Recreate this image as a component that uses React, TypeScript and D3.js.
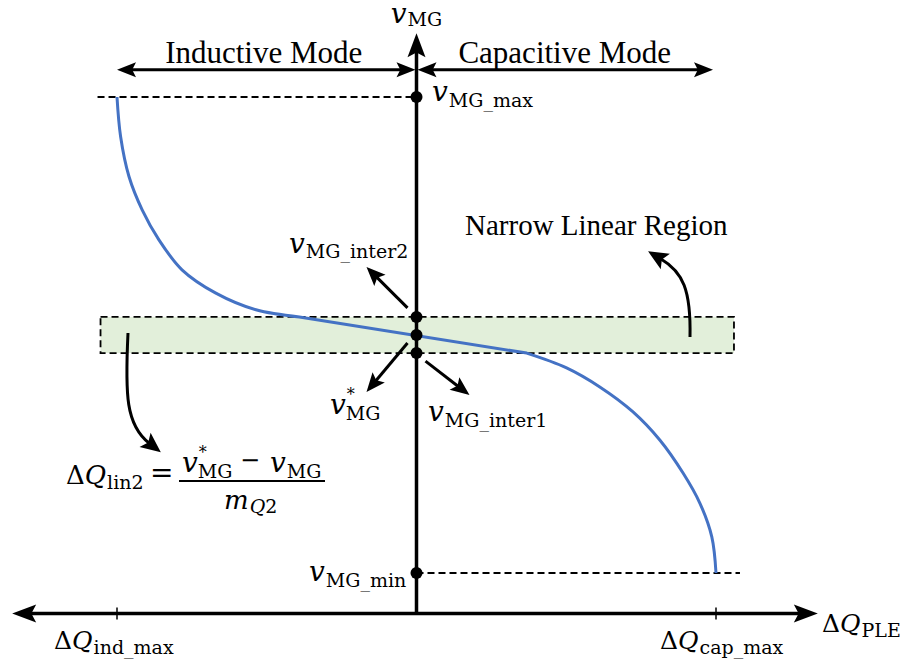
import React from "react";
import * as d3 from "d3";

const W = 903;
const H = 666;

// Reactive power deviation ΔQ_PLE is normalised so that -1 = ΔQ_ind_max and +1 = ΔQ_cap_max.
// Voltage v_MG is normalised so that 0 = v_MG_min and 1 = v_MG_max.
const qLimits: [number, number] = [-1, 1];
const vLimits: [number, number] = [0, 1];

// Droop characteristic: inductive branch (upper left), linear band, capacitive branch (lower right)
const inductiveBranch: [number, number][] = [
  [-1.0, 1.0],
  [-0.988, 0.917],
  [-0.96, 0.833],
  [-0.916, 0.763],
  [-0.86, 0.7],
  [-0.783, 0.637],
  [-0.67, 0.588],
  [-0.536, 0.553],
  [-0.391, 0.538],
];
const linearSegment: [number, number][] = [
  [-0.391, 0.538],
  [0.368, 0.462],
];
const capacitiveBranch: [number, number][] = [
  [0.368, 0.462],
  [0.501, 0.431],
  [0.612, 0.391],
  [0.722, 0.339],
  [0.813, 0.279],
  [0.89, 0.21],
  [0.946, 0.147],
  [0.986, 0.076],
  [1.0, 0.0],
];

// Voltage levels marked on the vertical axis
const vInter1 = 0.462;
const vStar = 0.5;
const vInter2 = 0.538;

const BLUE = "#4472C4";
const BAND = "#E2EFDA";
const TEXT_FONT = "'Liberation Serif', 'Times New Roman', serif";
const MATH_FONT = "'DejaVu Serif', serif";

const x = d3.scaleLinear().domain(qLimits).range([117, 716]);
const y = d3.scaleLinear().domain(vLimits).range([573, 97]);

type Pt = [number, number];

// Filled arrowhead with a slightly swept back, tip at (tx, ty), pointing along (dx, dy)
function Head({ tx, ty, dx, dy, len = 20, half = 8 }: { tx: number; ty: number; dx: number; dy: number; len?: number; half?: number }) {
  const n = Math.hypot(dx, dy);
  const ux = dx / n;
  const uy = dy / n;
  const px = -uy;
  const py = ux;
  const bx = tx - ux * len;
  const by = ty - uy * len;
  const nx = tx - ux * len * 0.8;
  const ny = ty - uy * len * 0.8;
  const pts = [
    [tx, ty],
    [bx + px * half, by + py * half],
    [nx, ny],
    [bx - px * half, by - py * half],
  ];
  return <polygon points={pts.map((p) => p.join(",")).join(" ")} fill="#000" />;
}

// Straight arrow from (x1,y1) to tip (x2,y2)
function Arrow({ x1, y1, x2, y2, len = 20, half = 8, w = 3 }: { x1: number; y1: number; x2: number; y2: number; len?: number; half?: number; w?: number }) {
  const dx = x2 - x1;
  const dy = y2 - y1;
  const n = Math.hypot(dx, dy);
  const ex = x2 - (dx / n) * len * 0.7;
  const ey = y2 - (dy / n) * len * 0.7;
  return (
    <g>
      <line x1={x1} y1={y1} x2={ex} y2={ey} stroke="#000" strokeWidth={w} />
      <Head tx={x2} ty={y2} dx={dx} dy={dy} len={len} half={half} />
    </g>
  );
}

// Curved arrow (cubic Bézier) with the head continuing along the end tangent
function CurvedArrow({ p0, c1, c2, p1, len = 20, half = 9 }: { p0: Pt; c1: Pt; c2: Pt; p1: Pt; len?: number; half?: number }) {
  const dx = p1[0] - c2[0];
  const dy = p1[1] - c2[1];
  const n = Math.hypot(dx, dy);
  const tip: Pt = [p1[0] + (dx / n) * len * 0.75, p1[1] + (dy / n) * len * 0.75];
  const path = d3.path();
  path.moveTo(p0[0], p0[1]);
  path.bezierCurveTo(c1[0], c1[1], c2[0], c2[1], p1[0], p1[1]);
  return (
    <g>
      <path d={path.toString()} fill="none" stroke="#000" strokeWidth={3} />
      <Head tx={tip[0]} ty={tip[1]} dx={dx} dy={dy} len={len} half={half} />
    </g>
  );
}

// Italic symbol with an upright subscript, e.g. v_MG
function MathLabel({
  x: lx,
  y: ly,
  sym,
  sub,
  subItalic,
  pre,
  star,
  size = 28,
  subSize = 19,
  subDy = 6,
  anchor = "start",
}: {
  x: number;
  y: number;
  sym: string;
  sub: string;
  subItalic?: string;
  pre?: string;
  star?: boolean;
  size?: number;
  subSize?: number;
  subDy?: number;
  anchor?: string;
}) {
  const subNode = subItalic ? (
    <>
      <tspan fontStyle="italic">{subItalic}</tspan>
      {sub}
    </>
  ) : (
    sub
  );
  return (
    <text x={lx} y={ly} fontFamily={MATH_FONT} fontSize={size} textAnchor={anchor} fill="#000">
      {pre ? <tspan>{pre}</tspan> : null}
      <tspan fontStyle="italic">{sym}</tspan>
      {star ? (
        <>
          <tspan fontSize={16} dy={-14} dx={1}>*</tspan>
          <tspan fontSize={subSize} dy={14 + subDy} dx={-9}>{subNode}</tspan>
        </>
      ) : (
        <tspan fontSize={subSize} dy={subDy} dx={1}>{subNode}</tspan>
      )}
    </text>
  );
}

export default function App() {
  const x0 = x(0);
  const yAxisH = y(-0.085); // horizontal axis level
  const yTop = y(1.134); // tip of the vertical axis
  const xLeftTip = x(-1.35);
  const xRightTip = x(1.34);
  const yMode = y(1.057);

  const curve = d3
    .line<Pt>()
    .x((d) => x(d[0]))
    .y((d) => y(d[1]))
    .curve(d3.curveCatmullRom.alpha(0.5));
  const straight = d3
    .line<Pt>()
    .x((d) => x(d[0]))
    .y((d) => y(d[1]));
  const droopPath =
    (curve(inductiveBranch) || "") +
    (straight(linearSegment) || "").replace(/^M/, "L") +
    (curve(capacitiveBranch) || "").replace(/^M/, "L");

  const bandX0 = x(-1.055);
  const bandX1 = x(1.06);
  const dash = { stroke: "#000", strokeWidth: 1.8, strokeDasharray: "7 4" };

  return (
    <svg width={W} height={H} viewBox={`0 0 ${W} ${H}`} style={{ position: "absolute", left: 0, top: 0, background: "#fff" }}>
      <rect width={W} height={H} fill="#fff" />

      {/* Narrow linear region band */}
      <rect
        x={bandX0}
        y={y(vInter2)}
        width={bandX1 - bandX0}
        height={y(vInter1) - y(vInter2)}
        fill={BAND}
        {...dash}
      />

      {/* Limits */}
      <line x1={x(-1.065)} x2={x0} y1={y(vLimits[1])} y2={y(vLimits[1])} {...dash} />
      <line x1={x0} x2={x(1.08)} y1={y(vLimits[0])} y2={y(vLimits[0])} {...dash} />

      {/* Horizontal axis */}
      <line x1={xLeftTip + 14} x2={xRightTip - 14} y1={yAxisH} y2={yAxisH} stroke="#000" strokeWidth={3.5} />
      <Head tx={xLeftTip} ty={yAxisH} dx={-1} dy={0} len={24} half={9} />
      <Head tx={xRightTip} ty={yAxisH} dx={1} dy={0} len={24} half={9} />
      {qLimits.map((q) => (
        <line key={q} x1={x(q)} x2={x(q)} y1={yAxisH - 6} y2={yAxisH + 6} stroke="#000" strokeWidth={1.5} />
      ))}

      {/* Vertical axis */}
      <line x1={x0} x2={x0} y1={yAxisH} y2={yTop + 14} stroke="#000" strokeWidth={3.5} />
      <Head tx={x0} ty={yTop} dx={0} dy={-1} len={24} half={9} />

      {/* Operating mode arrows */}
      <line x1={x(-1) + 12} x2={x0 - 12} y1={yMode} y2={yMode} stroke="#000" strokeWidth={3} />
      <Head tx={x(-1)} ty={yMode} dx={-1} dy={0} len={19} half={7.5} />
      <Head tx={x0 - 1} ty={yMode} dx={1} dy={0} len={19} half={7.5} />
      <line x1={x0 + 12} x2={x(0.99) - 12} y1={yMode} y2={yMode} stroke="#000" strokeWidth={3} />
      <Head tx={x0 + 1} ty={yMode} dx={-1} dy={0} len={19} half={7.5} />
      <Head tx={x(0.99)} ty={yMode} dx={1} dy={0} len={19} half={7.5} />
      <text x={(x(-1) + x0) / 2 - 3} y={yMode - 7} fontFamily={TEXT_FONT} fontSize={31} textAnchor="middle">
        Inductive Mode
      </text>
      <text x={(x0 + x(0.99)) / 2} y={yMode - 7} fontFamily={TEXT_FONT} fontSize={31} textAnchor="middle">
        Capacitive Mode
      </text>

      {/* Droop characteristic */}
      <path d={droopPath} fill="none" stroke={BLUE} strokeWidth={3} strokeLinejoin="round" />

      {/* Marked voltage levels */}
      {[vLimits[1], vInter2, vStar, vInter1, vLimits[0]].map((v, i) => (
        <circle key={i} cx={x0} cy={y(v)} r={6} fill="#000" />
      ))}

      {/* Callout arrows */}
      <Arrow x1={x0 - 9} y1={y(vInter2) - 9} x2={x0 - 50} y2={y(vInter2) - 50} len={19} half={8} />
      <Arrow x1={x0 - 9} y1={y(vStar) + 8} x2={x0 - 50} y2={y(vStar) + 57} len={19} half={8} />
      <Arrow x1={x0 + 9} y1={y(vInter1) + 8} x2={x0 + 53} y2={y(vInter1) + 42} len={19} half={8} />
      <CurvedArrow p0={[690, y(vStar) + 2]} c1={[691, 290]} c2={[683, 272]} p1={[661, 259]} />
      <CurvedArrow p0={[128, y(vStar) - 2]} c1={[125, 395]} c2={[126, 425]} p1={[149, 443]} />

      {/* Labels */}
      <MathLabel x={x0} y={23} sym="v" sub="MG" anchor="middle" subDy={3} />
      <MathLabel x={432} y={101} sym="v" sub="MG_max" />
      <MathLabel x={289} y={253} sym="v" sub="MG_inter2" subDy={5} />
      <MathLabel x={330} y={414} sym="v" sub="MG" star />
      <MathLabel x={428} y={421} sym="v" sub="MG_inter1" />
      <MathLabel x={309} y={581} sym="v" sub="MG_min" />
      <MathLabel x={54} y={649} pre="Δ" sym="Q" sub="ind_max" size={25} subDy={5} />
      <MathLabel x={660} y={649} pre="Δ" sym="Q" sub="cap_max" size={25} subDy={5} />
      <MathLabel x={822} y={632} pre="Δ" sym="Q" sub="PLE" size={25} subDy={5} />

      <text x={465} y={235} fontFamily={TEXT_FONT} fontSize={29}>
        Narrow Linear Region
      </text>

      {/* Linear droop relation */}
      <MathLabel x={66} y={484} pre="Δ" sym="Q" sub="lin2" size={26} subDy={5} />
      <text x={150} y={482} fontFamily={MATH_FONT} fontSize={28}>=</text>
      <line x1={179} x2={325} y1={481} y2={481} stroke="#000" strokeWidth={2} />
      <MathLabel x={182} y={472} sym="v" sub="MG" star />
      <text x={240} y={468} fontFamily={MATH_FONT} fontSize={24}>−</text>
      <MathLabel x={270} y={472} sym="v" sub="MG" />
      <MathLabel x={224} y={509} sym="m" subItalic="Q" sub="2" size={26} subSize={19} subDy={4} />
    </svg>
  );
}
